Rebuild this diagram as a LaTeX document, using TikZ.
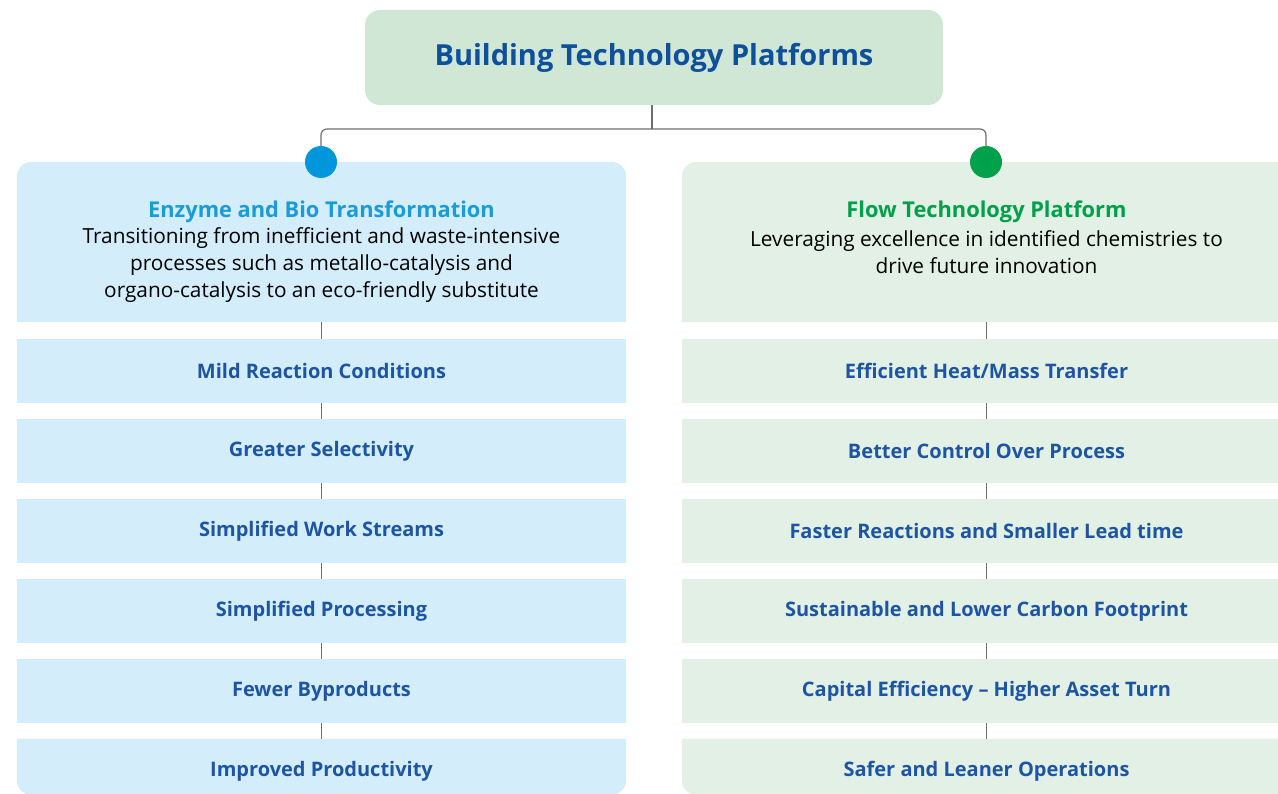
\documentclass[tikz,border=0pt]{standalone}
\usepackage{fontspec}
\setmainfont{Open Sans}
\usetikzlibrary{positioning}

\definecolor{titlebg}{RGB}{208,231,213}
\definecolor{enzbg}{RGB}{211,237,250}
\definecolor{flowbg}{RGB}{226,240,229}
\definecolor{titleblue}{RGB}{14,80,156}
\definecolor{itemblue}{RGB}{30,85,163}
\definecolor{enzblue}{RGB}{27,155,215}
\definecolor{flowgreen}{RGB}{0,160,75}
\definecolor{dotblue}{RGB}{0,150,219}
\definecolor{dotgreen}{RGB}{0,161,74}
\definecolor{linegray}{RGB}{110,110,110}

\tikzset{
  box/.style={rectangle, minimum width=609pt, minimum height=64pt, inner sep=0pt,
              font=\fontsize{20}{24}\selectfont\bfseries, text=itemblue},
  enzitem/.style={box, fill=enzbg},
  flowitem/.style={box, fill=flowbg},
  head/.style={rectangle, minimum width=609pt, minimum height=160pt, inner sep=0pt},
  link/.style={draw=linegray, line width=0.8pt},
  dot/.style={circle, minimum size=32pt, inner sep=0pt},
}

\begin{document}
\begin{tikzpicture}[x=1pt,y=-1pt]
    \useasboundingbox (0,0) rectangle (1278,794);

    % title
    \node[rectangle, rounded corners=15pt, fill=titlebg, minimum width=578pt, minimum height=95pt,
          font=\fontsize{29}{34}\selectfont\bfseries, text=titleblue] (title) at (654,57.5)
          {Building Technology Platforms};

    % header boxes (only top corners rounded)
    \node[head] (enz) at (321.5,242) {};
    \node[head] (flow) at (986.5,242) {};
    \fill[enzbg] (enz.south west) [rounded corners=15pt] -- (enz.north west) -- (enz.north east)
        [sharp corners] -- (enz.south east) -- cycle;
    \fill[flowbg] (flow.south west) [rounded corners=15pt] -- (flow.north west) -- (flow.north east)
        [sharp corners] -- (flow.south east) -- cycle;

    \node[font=\fontsize{21.8}{26}\selectfont\bfseries, text=enzblue] (enzT) at (321.5,212)
        {Enzyme and Bio Transformation};
    \node[align=center, font=\fontsize{20.8}{27}\selectfont] (enzD) at (321.5,265.5)
        {Transitioning from inefficient and waste-intensive\\
         processes such as metallo-catalysis and\\
         organo-catalysis to an eco-friendly substitute};
    \node[font=\fontsize{21.8}{26}\selectfont\bfseries, text=flowgreen] (flowT) at (986.5,212)
        {Flow Technology Platform};
    \node[align=center, font=\fontsize{20.8}{27}\selectfont] (flowD) at (986.5,252)
        {Leveraging excellence in identified chemistries to\\
         drive future innovation};

    % dots and fork
    \node[dot, fill=dotblue] (dotL) at (321,162) {};
    \node[dot, fill=dotgreen] (dotR) at (986,162) {};
    \coordinate (fork) at (652,129);
    \draw[link, line width=1.2pt] (title.south -| fork) -- (fork);
    \draw[link, line width=1.2pt, rounded corners=6pt] (fork) -| (dotL);
    \draw[link, line width=1.2pt, rounded corners=6pt] (fork) -| (dotR);

    % enzyme items
    \node[enzitem] (e1) at (321.5,371) {Mild Reaction Conditions};
    \node[enzitem] (e2) at (321.5,451) {Greater Selectivity};
    \node[enzitem] (e3) at (321.5,531) {Simplified Work Streams};
    \node[enzitem] (e4) at (321.5,611) {Simplified Processing};
    \node[enzitem] (e5) at (321.5,691) {Fewer Byproducts};
    \node[box] (e6) at (321.5,771) {};
    \fill[enzbg] (e6.north west) [rounded corners=15pt] -- (e6.west |- 0,795) -- (e6.east |- 0,795)
        [sharp corners] -- (e6.north east) -- cycle;
    \node[box] at (e6) {Improved Productivity};

    % flow items
    \node[flowitem] (f1) at (986.5,371) {Efficient Heat/Mass Transfer};
    \node[flowitem] (f2) at (986.5,451) {Better Control Over Process};
    \node[flowitem] (f3) at (986.5,531) {Faster Reactions and Smaller Lead time};
    \node[flowitem] (f4) at (986.5,611) {Sustainable and Lower Carbon Footprint};
    \node[flowitem] (f5) at (986.5,691) {Capital Efficiency -- Higher Asset Turn};
    \node[box] (f6) at (986.5,771) {};
    \fill[flowbg] (f6.north west) [rounded corners=15pt] -- (f6.west |- 0,795) -- (f6.east |- 0,795)
        [sharp corners] -- (f6.north east) -- cycle;
    \node[box] at (f6) {Safer and Leaner Operations};

    % vertical links
    \draw[link] (enz.south -| dotL) -- (e1.north -| dotL);
    \draw[link] (e1.south -| dotL) -- (e2.north -| dotL);
    \draw[link] (e2.south -| dotL) -- (e3.north -| dotL);
    \draw[link] (e3.south -| dotL) -- (e4.north -| dotL);
    \draw[link] (e4.south -| dotL) -- (e5.north -| dotL);
    \draw[link] (e5.south -| dotL) -- (e6.north -| dotL);
    \draw[link] (flow.south -| dotR) -- (f1.north -| dotR);
    \draw[link] (f1.south -| dotR) -- (f2.north -| dotR);
    \draw[link] (f2.south -| dotR) -- (f3.north -| dotR);
    \draw[link] (f3.south -| dotR) -- (f4.north -| dotR);
    \draw[link] (f4.south -| dotR) -- (f5.north -| dotR);
    \draw[link] (f5.south -| dotR) -- (f6.north -| dotR);
\end{tikzpicture}
\end{document}
